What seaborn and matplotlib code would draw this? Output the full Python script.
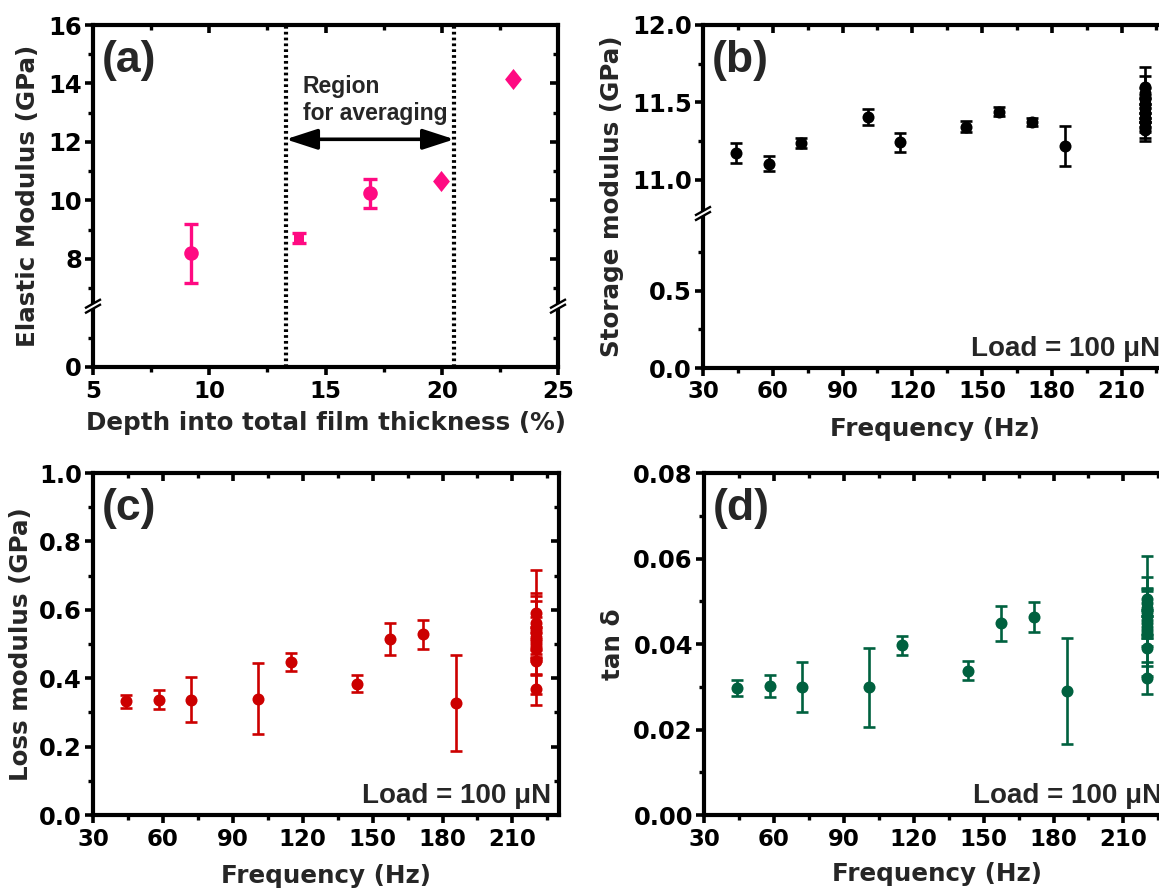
import numpy as np
import pandas as pd
import matplotlib
matplotlib.use('Agg')
import matplotlib.pyplot as plt
import seaborn as sns
from matplotlib.path import Path
from matplotlib.patches import Polygon

# ---------------- data ----------------
a_depth = [9.21, 13.84, 16.92, 19.98, 23.07]
a_modulus = [8.19, 8.72, 10.24, 10.67, 14.14]
a_err = [1.0, 0.17, 0.5, 0.05, 0.05]
a_shape = ['circle', 'square', 'circle', 'diamond', 'diamond']
region_bounds = [13.29, 20.54]
region_arrow_y = 12.09

freq = [44.0, 58.2, 72.2, 100.9, 114.9, 143.1, 157.3, 171.6, 185.9]
cluster_freq = 220.0

storage = [11.17, 11.103, 11.236, 11.404, 11.24, 11.343, 11.44, 11.373, 11.218]
storage_err = [0.065, 0.05, 0.03, 0.05, 0.063, 0.035, 0.03, 0.025, 0.13]
storage_cluster = [11.60, 11.56, 11.52, 11.49, 11.46, 11.43, 11.40, 11.37, 11.34, 11.32]
storage_cluster_err = [0.07, 0.03, 0.03, 0.24, 0.03, 0.03, 0.03, 0.03, 0.03, 0.05]

loss = [0.332, 0.337, 0.337, 0.340, 0.448, 0.384, 0.514, 0.528, 0.327]
loss_err = [0.02, 0.028, 0.066, 0.103, 0.026, 0.025, 0.046, 0.043, 0.14]
loss_cluster = [0.59, 0.56, 0.545, 0.535, 0.52, 0.51, 0.50, 0.485, 0.45, 0.367]
loss_cluster_err = [0.058, 0.079, 0.082, 0.18, 0.06, 0.04, 0.05, 0.03, 0.04, 0.045]

tand = [0.0297, 0.0302, 0.0299, 0.0299, 0.0397, 0.0338, 0.0448, 0.0463, 0.0291]
tand_err = [0.0018, 0.0026, 0.0058, 0.0092, 0.0022, 0.0022, 0.0041, 0.0036, 0.0124]
tand_cluster = [0.0505, 0.0495, 0.0485, 0.0475, 0.0465, 0.045, 0.044, 0.0425, 0.039, 0.032]
tand_cluster_err = [0.0025, 0.003, 0.0072, 0.0053, 0.0141, 0.003, 0.0025, 0.003, 0.0042, 0.0038]

a_yticks = [0, 8, 10, 12, 14, 16]
b_yticks = [0.0, 0.5, 11.0, 11.5, 12.0]
b_yticklabels = ['0.0', '0.5', '11.0', '11.5', '12.0']
c_yticks = [0.0, 0.2, 0.4, 0.6, 0.8, 1.0]
d_yticks = [0.00, 0.02, 0.04, 0.06, 0.08]
freq_ticks = [30, 60, 90, 120, 150, 180, 210]
depth_ticks = [5, 10, 15, 20, 25]

PINK = '#FF0A82'
RED = '#CC0000'
GREEN = '#00613F'

# ---------------- style ----------------
sns.set_theme(style='ticks')
plt.rcParams['font.family'] = ['DejaVu Sans']
plt.rcParams['font.weight'] = 'bold'
plt.rcParams['axes.labelweight'] = 'bold'
plt.rcParams['axes.edgecolor'] = 'black'
plt.rcParams['xtick.color'] = 'black'
plt.rcParams['ytick.color'] = 'black'
ARIAL = ['Liberation Sans', 'DejaVu Sans']

W, H = 1159, 888
fig = plt.figure(figsize=(W / 100, H / 100), dpi=100)
fig.patch.set_facecolor('white')


def add_ax(l, t, r, b):
    return fig.add_axes([l / W, 1 - b / H, (r - l) / W, (b - t) / H])


def broken(lo_max, hi_min):
    gap = hi_min - lo_max

    def fwd(v):
        v = np.asarray(v, dtype=float)
        return np.where(v <= lo_max, v, np.where(v >= hi_min, v - gap, lo_max))

    def inv(t):
        t = np.asarray(t, dtype=float)
        return np.where(t <= lo_max, t, t + gap)
    return fwd, inv


XTICK = 16.5
YTICK = 17.5
LAB = 17.7


def style(ax, xlim, xticks, xminor, ylim, yticks, yminor, yfuncs=None,
          yticklabels=None, xlabel='', ylabel='', xlabelpad=2, ylabelpad=6):
    if yfuncs is not None:
        ax.set_yscale('function', functions=yfuncs)
    ax.set_xlim(xlim)
    ax.set_ylim(ylim)
    ax.set_xticks(xticks)
    ax.set_xticks(xminor, minor=True)
    ax.set_yticks(yticks)
    ax.set_yticks(yminor, minor=True)
    ax.set_xticklabels([str(t) for t in xticks])
    if yticklabels is not None:
        ax.set_yticklabels(yticklabels)
    ax.tick_params(which='major', direction='out', length=6, width=2.6, pad=3)
    ax.tick_params(axis='x', which='major', labelsize=XTICK)
    ax.tick_params(axis='y', which='major', labelsize=YTICK, pad=2)
    ax.tick_params(which='minor', direction='out', length=3.5, width=2.4)
    for s in ax.spines.values():
        s.set_linewidth(3.0)
        s.set_color('black')
        s.set_visible(True)
    ax.set_xlabel(xlabel, fontsize=LAB, labelpad=xlabelpad)
    ax.set_ylabel(ylabel, fontsize=LAB, labelpad=ylabelpad)
    # mirrored inward ticks on top and right
    tx = ax.twiny()
    tx.set_xlim(xlim)
    tx.set_xticks(xticks)
    tx.set_xticks(xminor, minor=True)
    tx.tick_params(which='major', direction='in', length=6, width=2.6,
                   labeltop=False, top=True)
    tx.tick_params(which='minor', direction='in', length=3.5, width=2.4, top=True)
    ty = ax.twinx()
    if yfuncs is not None:
        ty.set_yscale('function', functions=yfuncs)
    ty.set_ylim(ylim)
    ty.set_yticks(yticks)
    ty.set_yticks(yminor, minor=True)
    ty.tick_params(which='major', direction='in', length=6, width=2.6,
                   labelright=False, right=True)
    ty.tick_params(which='minor', direction='in', length=3.5, width=2.4, right=True)
    for t in (tx, ty):
        for s in t.spines.values():
            s.set_visible(False)
        t.grid(False)
    ax.grid(False)


def add_break(ax, yval, fwd, ylim, side):
    t0, t1 = float(fwd(ylim[0])), float(fwd(ylim[1]))
    fy = (float(fwd(yval)) - t0) / (t1 - t0)
    bb = ax.get_position()
    wpx, hpx = bb.width * W, bb.height * H
    hw, rise, gap = 8.0, 4.5, 5.0
    cx = 0.0 if side == 'left' else 1.0

    def P(dx, dy):
        return (cx + dx / wpx, fy + dy / hpx)
    lower = [P(-hw, -rise - gap / 2), P(hw, rise - gap / 2)]
    upper = [P(-hw, -rise + gap / 2), P(hw, rise + gap / 2)]
    poly = Polygon([lower[0], lower[1], upper[1], upper[0]], closed=True,
                   transform=ax.transAxes, facecolor='white', edgecolor='none',
                   clip_on=False, zorder=10)
    ax.add_patch(poly)
    for seg in (lower, upper):
        ax.plot([seg[0][0], seg[1][0]], [seg[0][1], seg[1][1]],
                transform=ax.transAxes, color='black', lw=1.7,
                clip_on=False, zorder=11, solid_capstyle='butt')


def panel_label(ax, s):
    ax.text(0.018, 0.955, s, transform=ax.transAxes, fontsize=32,
            family=ARIAL, fontweight='bold', ha='left', va='top', zorder=12)


def load_label(ax):
    ax.text(0.983, 0.035, 'Load = 100 μN', transform=ax.transAxes,
            fontsize=20, family=ARIAL, fontweight='bold', ha='right',
            va='baseline', zorder=12)


# ---------------- panel (a) ----------------
ax_a = add_ax(93, 25, 558, 367)
fa = broken(2.08, 6.38)
ax_a.set_yscale('function', functions=fa)
df_a = pd.DataFrame({'depth': a_depth, 'modulus': a_modulus, 'err': a_err,
                     'shape': a_shape})
tall_diamond = Path([(0, 1), (0.8, 0), (0, -1), (-0.8, 0), (0, 1)],
                    [Path.MOVETO, Path.LINETO, Path.LINETO, Path.LINETO,
                     Path.CLOSEPOLY])
shape_marker = {'circle': ('o', 110, 5), 'square': ('s', 62, 5),
                'diamond': (tall_diamond, 230, 3.5)}
for shp, (mk, sz, cap) in shape_marker.items():
    sub = df_a[df_a['shape'] == shp]
    ax_a.errorbar(sub['depth'], sub['modulus'], yerr=sub['err'], fmt='none',
                  ecolor=PINK, elinewidth=2.4, capsize=cap, capthick=2.4, zorder=3)
    sns.scatterplot(data=sub, x='depth', y='modulus', ax=ax_a, marker=mk, s=sz,
                    color=PINK, edgecolor=PINK, linewidth=0, zorder=4, legend=False)
for xb in region_bounds:
    ax_a.axvline(xb, color='black', lw=3.0, linestyle=(0, (0.65, 0.75)), zorder=2)
ax_a.annotate('', xy=(region_bounds[1], region_arrow_y),
              xytext=(region_bounds[0], region_arrow_y),
              arrowprops=dict(arrowstyle='<|-|>,head_length=0.8,head_width=0.26',
                              lw=2.6, color='black', shrinkA=0, shrinkB=0,
                              mutation_scale=24), zorder=5)
ax_a.text(14.03, 13.68, 'Region', fontsize=16.5, family=ARIAL, fontweight='bold',
          ha='left', va='baseline')
ax_a.text(14.03, 12.74, 'for averaging', fontsize=16.5, family=ARIAL,
          fontweight='bold', ha='left', va='baseline')
style(ax_a, (5, 25), depth_ticks, [7.5, 12.5, 17.5, 22.5], (0, 16), a_yticks,
      [1, 7, 9, 11, 13, 15], yfuncs=fa, yticklabels=[str(t) for t in a_yticks],
      xlabel='Depth into total film thickness (%)', ylabel='Elastic Modulus (GPa)',
      xlabelpad=6)
add_break(ax_a, 2.08, fa[0], (0, 16), 'left')
add_break(ax_a, 2.08, fa[0], (0, 16), 'right')
panel_label(ax_a, '(a)')


# ---------------- frequency panels ----------------
def freq_panel(ax, vals, errs, cvals, cerrs, color):
    xs = freq + [cluster_freq] * len(cvals)
    ys = vals + cvals
    es = errs + cerrs
    ax.errorbar(xs, ys, yerr=es, fmt='none', ecolor=color, elinewidth=1.9,
                capsize=4, capthick=1.9, zorder=3)
    df = pd.DataFrame({'freq': xs, 'value': ys})
    sns.scatterplot(data=df, x='freq', y='value', ax=ax, s=75, color=color,
                    edgecolor=color, linewidth=0, zorder=4, legend=False)


freq_minor = [45, 75, 105, 135, 165, 195, 225]

ax_b = add_ax(703, 25, 1168, 368)
fb = broken(1.0, 10.78)
ax_b.set_yscale('function', functions=fb)
freq_panel(ax_b, storage, storage_err, storage_cluster, storage_cluster_err, 'black')
style(ax_b, (30, 230), freq_ticks, freq_minor, (0, 12.0), b_yticks,
      [0.25, 0.75, 11.25, 11.75], yfuncs=fb, yticklabels=b_yticklabels,
      xlabel='Frequency (Hz)', ylabel='Storage modulus (GPa)', xlabelpad=10)
add_break(ax_b, 1.0, fb[0], (0, 12.0), 'left')
panel_label(ax_b, '(b)')
load_label(ax_b)

ax_c = add_ax(93, 473, 559, 815)
freq_panel(ax_c, loss, loss_err, loss_cluster, loss_cluster_err, RED)
style(ax_c, (30, 230), freq_ticks, freq_minor, (0, 1.0), c_yticks,
      [0.1, 0.3, 0.5, 0.7, 0.9], yticklabels=['%.1f' % t for t in c_yticks],
      xlabel='Frequency (Hz)', ylabel='Loss modulus (GPa)', xlabelpad=10,
      ylabelpad=4)
panel_label(ax_c, '(c)')
load_label(ax_c)

ax_d = add_ax(704, 473, 1170, 815)
freq_panel(ax_d, tand, tand_err, tand_cluster, tand_cluster_err, GREEN)
style(ax_d, (30, 230), freq_ticks, freq_minor, (0, 0.08), d_yticks,
      [0.01, 0.03, 0.05, 0.07], yticklabels=['%.2f' % t for t in d_yticks],
      xlabel='Frequency (Hz)', ylabel='tan δ', xlabelpad=8)
panel_label(ax_d, '(d)')
load_label(ax_d)

fig.savefig('out.png', dpi=100, facecolor='white')
